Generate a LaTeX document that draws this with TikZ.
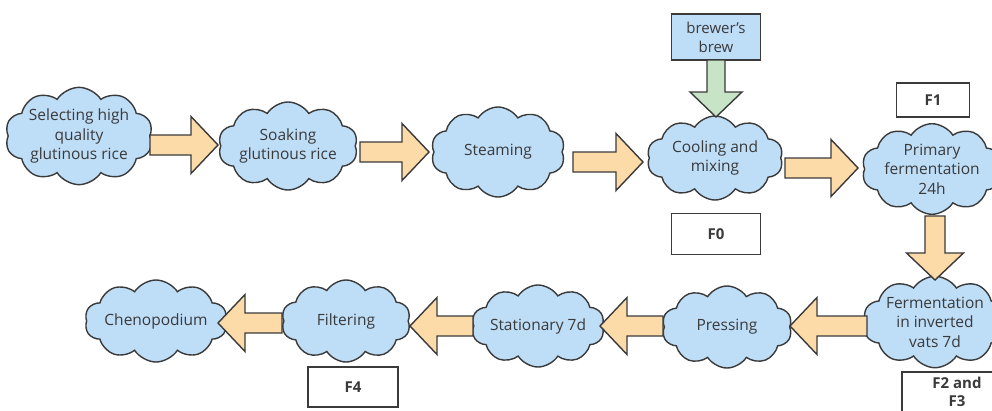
\documentclass[tikz,border=0pt]{standalone}
\usepackage{fontspec}
\setmainfont{Open Sans}
\usetikzlibrary{shapes.symbols,calc}
\definecolor{cloudfill}{HTML}{BEDDF7}
\definecolor{arrowfill}{HTML}{FDDBA9}
\definecolor{greenfill}{HTML}{C7E5C6}
\definecolor{linec}{HTML}{3A3A3A}
\definecolor{textc}{HTML}{3A3A3A}
\tikzset{
  stepcloud/.style={cloud, cloud puffs=10, cloud puff arc=115, cloud ignores aspect,
    draw=linec, line width=1.4pt, fill=cloudfill, text=textc, align=center, inner sep=0pt,
    font=\fontsize{15.5}{19.5}\selectfont},
  labelbox/.style={draw=linec, line width=1.4pt, fill=white, text=textc, align=center,
    font=\bfseries\fontsize{15}{19}\selectfont, inner sep=0pt},
  barrow/.style={draw=linec, line width=1.4pt, fill=arrowfill, line join=miter},
}
\newcommand\rarrow[3][arrowfill]{%
  \draw[barrow, fill=#1] let \p1=(#2), \p2=(#3) in
    (\x1,\y1+10pt) -- (\x2-27pt,\y1+10pt) -- (\x2-27pt,\y1+28.5pt) -- (\x2,\y1)
    -- (\x2-27pt,\y1-28.5pt) -- (\x2-27pt,\y1-10pt) -- (\x1,\y1-10pt) -- cycle;}
\newcommand\larrow[3][arrowfill]{%
  \draw[barrow, fill=#1] let \p1=(#2), \p2=(#3) in
    (\x1,\y1+10pt) -- (\x2+27pt,\y1+10pt) -- (\x2+27pt,\y1+28.5pt) -- (\x2,\y1)
    -- (\x2+27pt,\y1-28.5pt) -- (\x2+27pt,\y1-10pt) -- (\x1,\y1-10pt) -- cycle;}
\newcommand\darrow[4][arrowfill]{%
  \draw[barrow, fill=#1] let \p1=(#3), \p2=(#4) in
    (\x1+#2,\y1) -- (\x1+#2,\y2+27pt) -- (\x1+28.5pt,\y2+27pt) -- (\x1,\y2)
    -- (\x1-28.5pt,\y2+27pt) -- (\x1-#2,\y2+27pt) -- (\x1-#2,\y1) -- cycle;}
\begin{document}
\begin{tikzpicture}[x=1pt,y=-1pt]
\useasboundingbox (0,0) rectangle (992,410);
\clip (0,0) rectangle (992,410);
\fill[white] (0,0) rectangle (992,410);
% clouds
\node[stepcloud, minimum width=136, minimum height=92] (c1) at (79,136) {Selecting high\\quality\\glutinous rice};
\node[stepcloud, minimum width=136, minimum height=88] (c2) at (288,146) {Soaking\\glutinous rice};
\node[stepcloud, minimum width=134, minimum height=90] (c3) at (498,152) {Steaming};
\node[stepcloud, minimum width=136, minimum height=84] (c4) at (715,158) {Cooling and\\mixing};
\node[stepcloud, minimum width=136, minimum height=88] (c5) at (932,169) {Primary\\fermentation\\24h};
\node[stepcloud, minimum width=136, minimum height=86] (c6) at (935,322) {Fermentation\\in inverted\\vats 7d};
\node[stepcloud, minimum width=130, minimum height=82] (c7) at (727,327) {Pressing};
\node[stepcloud, minimum width=130, minimum height=82] (c8) at (538,326) {Stationary 7d};
\node[stepcloud, minimum width=129, minimum height=82] (c9) at (346,321) {Filtering};
\node[stepcloud, minimum width=129, minimum height=82] (c10) at (156,321) {Chenopodium};
% boxes
\node[labelbox, fill=cloudfill, font=\fontsize{15}{19}\selectfont, minimum width=89, minimum height=46] (brew) at (716,37) {brewer's\\brew};
\node[labelbox, minimum width=73, minimum height=34] (f1) at (933,100) {F1};
\node[labelbox, minimum width=89, minimum height=41] (f0) at (716,234) {F0};
\node[labelbox, minimum width=90, minimum height=40] (f4) at (353,387) {F4};
\draw[draw=linec, line width=1.4pt, fill=white] (902,372) rectangle (1000,420);
\node[text=textc, align=center, font=\bfseries\fontsize{15}{18}\selectfont, inner sep=0pt] (f23) at (957,392) {F2 and\\F3};
% arrow end coordinates
\coordinate (a1t) at (150,145); \coordinate (a1h) at (218,145);
\coordinate (a2t) at (360,152); \coordinate (a2h) at (429,152);
\coordinate (a3t) at (573,162); \coordinate (a3h) at (643,162);
\coordinate (a4t) at (785,168); \coordinate (a4h) at (858,168);
\coordinate (a5t) at (935,216); \coordinate (a5h) at (935,280);
\coordinate (a6t) at (867,326); \coordinate (a6h) at (790,326);
\coordinate (a7t) at (663,326); \coordinate (a7h) at (600,326);
\coordinate (a8t) at (473,326); \coordinate (a8h) at (410,326);
\coordinate (a9t) at (282,323); \coordinate (a9h) at (218,323);
\coordinate (gt) at (716,60); \coordinate (gh) at (716,117);
% arrows
\rarrow{a1t}{a1h}
\rarrow{a2t}{a2h}
\rarrow{a3t}{a3h}
\rarrow{a4t}{a4h}
\darrow{10pt}{a5t}{a5h}
\larrow{a6t}{a6h}
\larrow{a7t}{a7h}
\larrow{a8t}{a8h}
\larrow{a9t}{a9h}
\draw[barrow, fill=greenfill] let \p1=(gt), \p2=(gh) in
    (\x1+9pt,\y1) -- (\x1+9pt,\y2+25pt) -- (\x1+26pt,\y2+25pt) -- (\x1,\y2)
    -- (\x1-26pt,\y2+25pt) -- (\x1-9pt,\y2+25pt) -- (\x1-9pt,\y1) -- cycle;
\end{tikzpicture}
\end{document}
